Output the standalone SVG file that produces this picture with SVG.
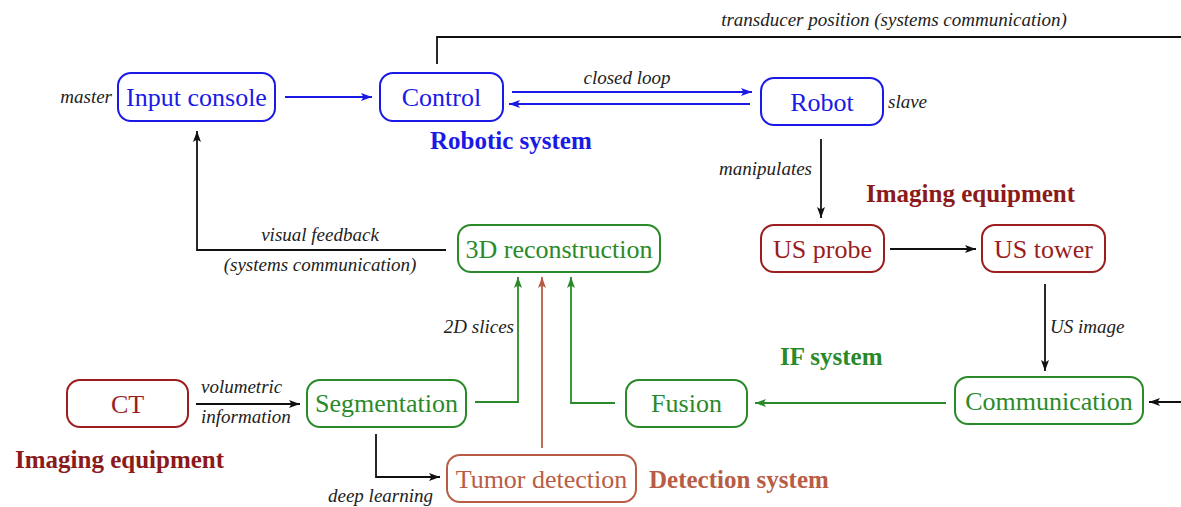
<svg xmlns="http://www.w3.org/2000/svg" width="1181" height="507" viewBox="0 0 1181 507">
<style>
  .box { fill: #ffffff; stroke-width: 2; }
  .blue { stroke: #1a1ae6; }
  .green { stroke: #2a8a2a; }
  .dred { stroke: #9b1d1d; }
  .tred { stroke: #b85c45; }
  .nt { font-family: "Liberation Serif", "DejaVu Serif", serif; font-size: 26px; text-anchor: middle; dominant-baseline: central; }
  .lbl { font-family: "Liberation Serif", "DejaVu Serif", serif; font-style: italic; font-size: 19px; fill: #222; }
  .sys { font-family: "Liberation Serif", "DejaVu Serif", serif; font-weight: bold; font-size: 25px; }
  .c { fill: none; stroke-width: 1.8; }
  .ck { stroke: #111; }
  .cb { stroke: #1a1ae6; }
  .cg { stroke: #2a8a2a; }
  .cr { stroke: #b85c45; }
</style>
<defs>
  <marker id="ak" viewBox="0 0 11 8" refX="11" refY="4" markerWidth="11" markerHeight="8" markerUnits="userSpaceOnUse" orient="auto">
    <path d="M0,0 L11,4 L0,8 L2.5,4 z" fill="#111"/>
  </marker>
  <marker id="ab" viewBox="0 0 11 8" refX="11" refY="4" markerWidth="11" markerHeight="8" markerUnits="userSpaceOnUse" orient="auto">
    <path d="M0,0 L11,4 L0,8 L2.5,4 z" fill="#1a1ae6"/>
  </marker>
  <marker id="ag" viewBox="0 0 11 8" refX="11" refY="4" markerWidth="11" markerHeight="8" markerUnits="userSpaceOnUse" orient="auto">
    <path d="M0,0 L11,4 L0,8 L2.5,4 z" fill="#2a8a2a"/>
  </marker>
  <marker id="ar" viewBox="0 0 11 8" refX="11" refY="4" markerWidth="11" markerHeight="8" markerUnits="userSpaceOnUse" orient="auto">
    <path d="M0,0 L11,4 L0,8 L2.5,4 z" fill="#b85c45"/>
  </marker>
</defs>

<g id="connectors">
  <path class="c cb" d="M285,97 L372,97" marker-end="url(#ab)"/>
  <path class="c cb" d="M512,92 L752,92" marker-end="url(#ab)"/>
  <path class="c cb" d="M750,104 L509,104" marker-end="url(#ab)"/>
  <path class="c ck" d="M437,64 L437,37 L1185,37"/>
  <path class="c ck" d="M1185,402 L1149,402" marker-end="url(#ak)"/>
  <path class="c ck" d="M821,139 L821,218" marker-end="url(#ak)"/>
  <path class="c ck" d="M890,249 L976,249" marker-end="url(#ak)"/>
  <path class="c ck" d="M1045,284 L1045,371" marker-end="url(#ak)"/>
  <path class="c cg" d="M946,403 L755,403" marker-end="url(#ag)"/>
  <path class="c cg" d="M615,403 L571,403 L571,277" marker-end="url(#ag)"/>
  <path class="c cg" d="M475,402 L518,402 L518,277" marker-end="url(#ag)"/>
  <path class="c cr" d="M542,448 L542,277" marker-end="url(#ar)"/>
  <path class="c ck" d="M376,434 L376,477 L440,477" marker-end="url(#ak)"/>
  <path class="c ck" d="M196,404 L300,404" marker-end="url(#ak)"/>
  <path class="c ck" d="M446,250 L197,250 L197,131" marker-end="url(#ak)"/>
</g>

<g id="labels">
  <text class="lbl" x="112" y="103" text-anchor="end">master</text>
  <text class="lbl" x="888" y="108">slave</text>
  <text class="lbl" x="627" y="84" text-anchor="middle">closed loop</text>
  <text class="lbl" x="894" y="26" text-anchor="middle">transducer position (systems communication)</text>
  <text class="lbl" x="812" y="175" text-anchor="end">manipulates</text>
  <text class="lbl" x="1050" y="333">US image</text>
  <text class="lbl" x="514" y="333" text-anchor="end">2D slices</text>
  <text class="lbl" x="201" y="393">volumetric</text>
  <text class="lbl" x="201" y="423">information</text>
  <text class="lbl" x="433" y="502" text-anchor="end">deep learning</text>
  <text class="lbl" x="320" y="241" text-anchor="middle">visual feedback</text>
  <text class="lbl" x="320" y="271" text-anchor="middle">(systems communication)</text>
  <text class="sys" x="430" y="149" fill="#1a1ae6">Robotic system</text>
  <text class="sys" x="866" y="202" fill="#8b1a1a">Imaging equipment</text>
  <text class="sys" x="780" y="365" fill="#2a8a2a">IF system</text>
  <text class="sys" x="649" y="488" fill="#b85c45">Detection system</text>
  <text class="sys" x="15" y="468" fill="#8b1a1a">Imaging equipment</text>
</g>

<g id="input-console">
  <rect class="box blue" x="118" y="73" width="157" height="48" rx="13"/>
  <text class="nt" x="196.5" y="97" fill="#1a1ae6">Input console</text>
</g>
<g id="control">
  <rect class="box blue" x="380" y="73" width="123" height="48" rx="13"/>
  <text class="nt" x="441.5" y="97" fill="#1a1ae6">Control</text>
</g>
<g id="robot">
  <rect class="box blue" x="761" y="78" width="122" height="47" rx="13"/>
  <text class="nt" x="822" y="102" fill="#1a1ae6">Robot</text>
</g>
<g id="us-probe">
  <rect class="box dred" x="761" y="225" width="123" height="47" rx="13"/>
  <text class="nt" x="822.5" y="249" fill="#9b1d1d">US probe</text>
</g>
<g id="us-tower">
  <rect class="box dred" x="982" y="225" width="123" height="47" rx="13"/>
  <text class="nt" x="1043.5" y="249" fill="#9b1d1d">US tower</text>
</g>
<g id="communication">
  <rect class="box green" x="955" y="377" width="188" height="47" rx="13"/>
  <text class="nt" x="1049" y="401" fill="#2a8a2a">Communication</text>
</g>
<g id="fusion">
  <rect class="box green" x="626" y="380" width="121" height="47" rx="13"/>
  <text class="nt" x="686.5" y="403" fill="#2a8a2a">Fusion</text>
</g>
<g id="reconstruction-3d">
  <rect class="box green" x="458" y="225" width="202" height="47" rx="13"/>
  <text class="nt" x="559" y="249" fill="#2a8a2a">3D reconstruction</text>
</g>
<g id="segmentation">
  <rect class="box green" x="307" y="380" width="159" height="47" rx="13"/>
  <text class="nt" x="386.5" y="403" fill="#2a8a2a">Segmentation</text>
</g>
<g id="tumor-detection">
  <rect class="box tred" x="447" y="455" width="189" height="47" rx="13"/>
  <text class="nt" x="541.5" y="479" fill="#b85c45">Tumor detection</text>
</g>
<g id="ct">
  <rect class="box dred" x="67" y="380" width="121" height="47" rx="13"/>
  <text class="nt" x="127.5" y="404" fill="#9b1d1d">CT</text>
</g>
</svg>
